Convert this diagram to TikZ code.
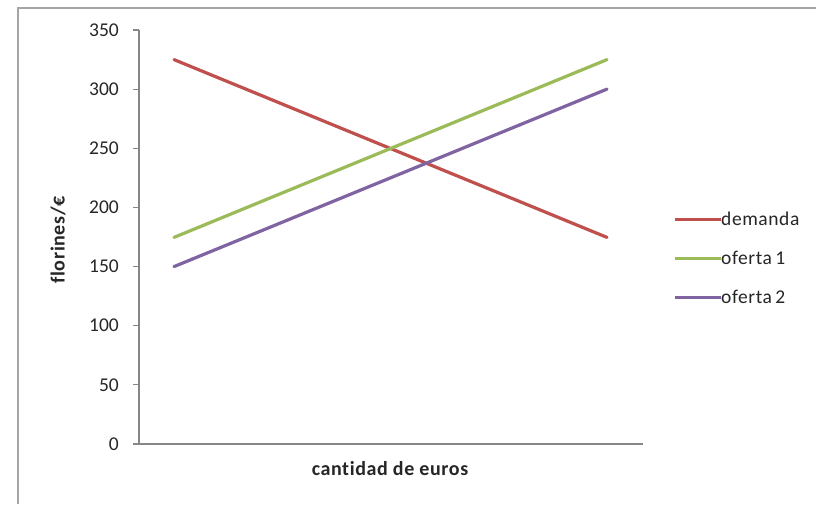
\documentclass[tikz,border=0pt]{standalone}
\usepackage{fontspec}
\setmainfont[Ligatures=NoCommon]{Carlito}
\definecolor{dem}{HTML}{C0504D}
\definecolor{of1}{HTML}{9BBB59}
\definecolor{of2}{HTML}{8064A2}
\definecolor{axisgray}{HTML}{868686}
\definecolor{framegray}{HTML}{A5A5A5}
\begin{document}
\begin{tikzpicture}[x=1pt,y=-1pt,
  ticklab/.style={anchor=east,inner sep=0pt,font=\fontsize{19.5}{19.5}\selectfont,text=black!85},
  legtext/.style={anchor=west,inner sep=0pt,font=\fontsize{19.5}{19.5}\selectfont\addfontfeature{LetterSpace=3},text=black!85},
  axtitle/.style={inner sep=0pt,font=\bfseries\fontsize{20}{20}\selectfont\addfontfeature{LetterSpace=3},text=black!85},
  series/.style={line width=3.2pt,line cap=round},
  legline/.style={line width=3pt}]
\useasboundingbox (0,0) rectangle (816,504);
\fill[white] (0,0) rectangle (816,504);
% frame
\draw[framegray,line width=1.5pt] (18,504) -- (18,8) -- (816,8);
% axes
\coordinate (o) at (139,444);
\coordinate (ytop) at (139,30);
\coordinate (xend) at (643,444);
\draw[axisgray,line width=1.2pt] (ytop) -- (o) -- (xend);
\foreach \v in {0,50,...,350}{
  \pgfmathsetmacro{\yy}{444-\v/350*414}
  \draw[axisgray,line width=1.2pt] (133,\yy) -- (139,\yy);
  \node[ticklab] (t\v) at (119,\yy) {\v};
}
% titles
\node[axtitle,rotate=90] (ytitle) at (58,240) {florines/€};
\node[axtitle] (xtitle) at (390,469) {cantidad de euros};
% data
\coordinate (d1) at (174,59.6);
\coordinate (d2) at (607,237.4);
\coordinate (a1) at (174,237.4);
\coordinate (a2) at (607,59.6);
\coordinate (b1) at (174,266.6);
\coordinate (b2) at (607,89.1);
\draw[series,dem] (d1) -- (d2);
\draw[series,of1] (a1) -- (a2);
\draw[series,of2] (b1) -- (b2);
% legend
\coordinate (l1a) at (675,219);
\coordinate (l2a) at (675,258);
\coordinate (l3a) at (675,297);
\node[legtext] (l1) at (721,219) {demanda};
\node[legtext] (l2) at (721,258) {oferta\,1};
\node[legtext] (l3) at (721,297) {oferta\,2};
\draw[legline,dem] (l1a) -- (l1.west);
\draw[legline,of1] (l2a) -- (l2.west);
\draw[legline,of2] (l3a) -- (l3.west);
\end{tikzpicture}
\end{document}
